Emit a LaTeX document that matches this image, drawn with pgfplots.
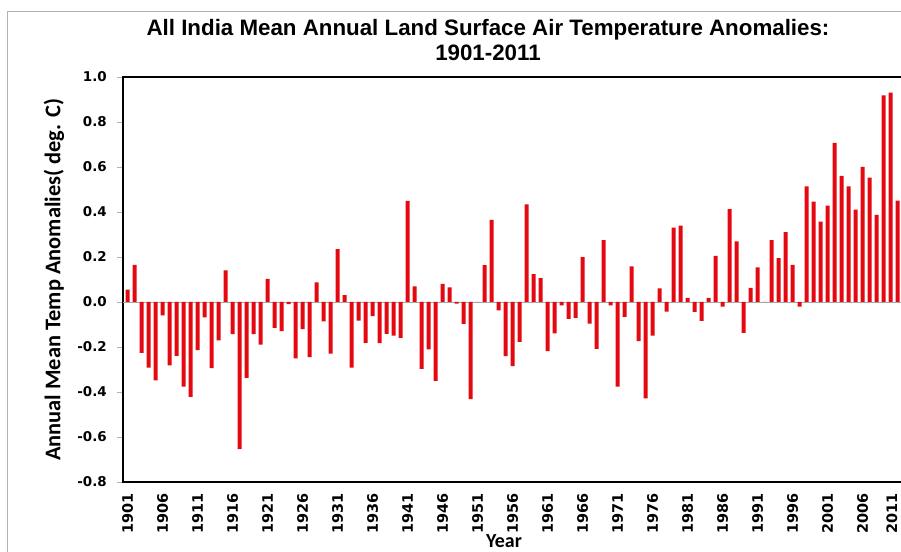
\documentclass[border=0pt]{standalone}
\usepackage{fontspec}
\setmainfont{Liberation Sans}
\newfontfamily\tickfont{DejaVu Sans}
\newfontfamily\calfont{Carlito}
\usepackage{pgfplots}
\pgfplotsset{compat=1.18}
\usepackage{pgfplotstable}
\definecolor{barred}{RGB}{228,8,16}
\pgfplotstableread{
year val
1901 0.055
1902 0.165
1903 -0.226
1904 -0.292
1905 -0.348
1906 -0.060
1907 -0.282
1908 -0.240
1909 -0.376
1910 -0.422
1911 -0.214
1912 -0.068
1913 -0.294
1914 -0.171
1915 0.140
1916 -0.143
1917 -0.654
1918 -0.337
1919 -0.143
1920 -0.189
1921 0.103
1922 -0.115
1923 -0.130
1924 -0.009
1925 -0.251
1926 -0.121
1927 -0.245
1928 0.087
1929 -0.086
1930 -0.229
1931 0.235
1932 0.030
1933 -0.292
1934 -0.083
1935 -0.182
1936 -0.063
1937 -0.183
1938 -0.142
1939 -0.149
1940 -0.159
1941 0.449
1942 0.069
1943 -0.297
1944 -0.211
1945 -0.351
1946 0.080
1947 0.065
1948 -0.007
1949 -0.097
1950 -0.432
1951 0.000
1952 0.164
1953 0.365
1954 -0.037
1955 -0.241
1956 -0.285
1957 -0.177
1958 0.434
1959 0.124
1960 0.106
1961 -0.218
1962 -0.140
1963 -0.015
1964 -0.075
1965 -0.071
1966 0.199
1967 -0.096
1968 -0.208
1969 0.275
1970 -0.015
1971 -0.376
1972 -0.066
1973 0.158
1974 -0.174
1975 -0.428
1976 -0.149
1977 0.060
1978 -0.043
1979 0.331
1980 0.339
1981 0.018
1982 -0.044
1983 -0.084
1984 0.018
1985 0.205
1986 -0.021
1987 0.413
1988 0.269
1989 -0.137
1990 0.063
1991 0.154
1992 0.000
1993 0.275
1994 0.195
1995 0.310
1996 0.165
1997 -0.021
1998 0.514
1999 0.446
2000 0.357
2001 0.428
2002 0.707
2003 0.561
2004 0.514
2005 0.410
2006 0.601
2007 0.553
2008 0.387
2009 0.918
2010 0.931
2011 0.450
}\anomaly
\begin{document}
\begin{tikzpicture}[x=1bp,y=1bp]
\useasboundingbox (0,0) rectangle (901,552);
\clip (0,0) rectangle (901,552);
\fill[white] (0,0) rectangle (901,552);
\draw[gray!60, line width=1bp] (7.5,-5) -- (7.5,540.5) -- (910,540.5);
\node[font=\bfseries\fontsize{22.4}{25}\selectfont] at (488,522) {All India Mean Annual Land Surface Air Temperature Anomalies:};
\node[font=\bfseries\fontsize{22.4}{25}\selectfont] at (488,499) {1901-2011};
\node[rotate=90, font=\calfont\bfseries\fontsize{22.5}{24}\selectfont] at (54,272) {Annual Mean Temp Anomalies( deg. C)};
\node[anchor=base, font=\calfont\bfseries\fontsize{20}{22}\selectfont, inner sep=0pt] at (504,4) {Year};
\begin{axis}[
  at={(123bp,70bp)}, anchor=south west,
  scale only axis, width=779.6bp, height=405bp,
  xmin=1900.33, xmax=2011.7, ymin=-0.8, ymax=1.0,
  ybar, bar width=4bp, bar shift=0pt,
  axis line style={line width=1.6bp, black},
  ytick={-0.8,-0.6,-0.4,-0.2,0,0.2,0.4,0.6,0.8,1.0},
  yticklabels={-0.8,-0.6,-0.4,-0.2,0.0,0.2,0.4,0.6,0.8,1.0},
  ytick pos=left, xtick pos=bottom,
  tick align=outside, major tick length=6bp,
  ytick style={draw=gray!60, line width=0.8bp},
  xtick style={draw=none},
  yticklabel style={font=\tickfont\bfseries\fontsize{13.5}{15}\selectfont, inner sep=0pt},
  yticklabel shift=10bp,
  xtick={1901,1906,1911,1916,1921,1926,1931,1936,1941,1946,1951,1956,1961,1966,1971,1976,1981,1986,1991,1996,2001,2006},
  xticklabels={1901,1906,1911,1916,1921,1926,1931,1936,1941,1946,1951,1956,1961,1966,1971,1976,1981,1986,1991,1996,2001,2006},
  xticklabel style={font=\tickfont\bfseries\fontsize{14.5}{16}\selectfont, rotate=90, anchor=east, inner sep=0pt},
  xticklabel shift=5bp,
  extra x ticks={2010.15}, extra x tick labels={2011},
  extra x tick style={xtick style={draw=none}},
  extra y ticks={0}, extra y tick labels={},
  extra y tick style={grid=major, major grid style={gray!70, line width=0.9bp}, major tick length=0pt},
  clip=false,
]
\addplot[fill=barred, draw=none] table[x=year, y=val] {\anomaly};
\end{axis}
\end{tikzpicture}
\end{document}
